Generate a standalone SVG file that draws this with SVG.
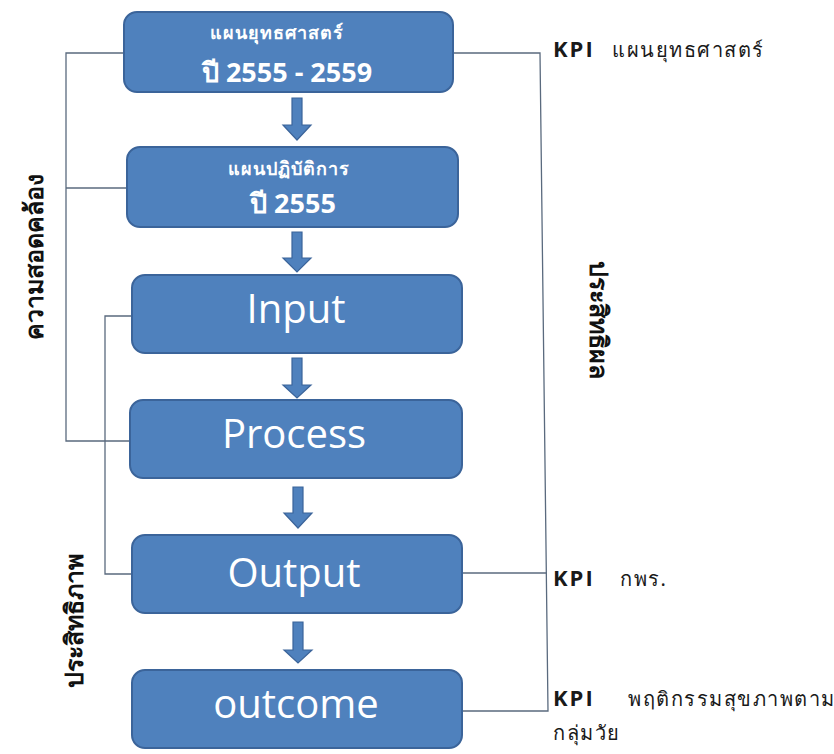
<svg xmlns="http://www.w3.org/2000/svg" width="834" height="754" viewBox="0 0 834 754">
<style>
.box{fill:#4f81bd;stroke:#3b649a;stroke-width:2}
.arr{fill:#4f81bd;stroke:#3b649a;stroke-width:1.2}
.ln{fill:none;stroke:#5a6a7e;stroke-width:1.3}
.big{font-family:"Open Sans","Noto Sans",sans-serif;font-size:40px;fill:#fff;text-anchor:middle}
.th{font-family:"Noto Sans","DejaVu Sans",sans-serif;font-weight:bold;font-size:18px;letter-spacing:1px;fill:#fff;text-anchor:middle}
.yr{font-family:"Open Sans","Liberation Sans",sans-serif;font-weight:bold;font-size:27px;fill:#fff;text-anchor:middle}
.kpi{font-family:"Open Sans","Liberation Sans",sans-serif;font-weight:bold;font-size:22px;fill:#1a1a1a;letter-spacing:2px}
.kth{font-family:"Noto Sans","DejaVu Sans",sans-serif;font-size:20px;letter-spacing:1.5px;fill:#1a1a1a}
.vt{font-family:"Liberation Serif","Noto Serif",serif;font-weight:bold;font-size:25px;fill:#111;text-anchor:middle}
</style>
<rect width="834" height="754" fill="#ffffff"/>
<g id="connectors">
<polyline class="ln" points="124,53 66,53 66,441 130,441"/>
<line class="ln" x1="66" y1="188" x2="127" y2="188"/>
<polyline class="ln" points="132,316 105,316 105,574 132,574"/>
<polyline class="ln" points="453,53 540,53 548,711 462,711"/>
<line class="ln" x1="462" y1="573" x2="547" y2="573"/>
<polygon class="arr" points="292,98 302,98 302,125 311,125 297,140 283,125 292,125"/>
<polygon class="arr" points="292,232 302,232 302,258 311,258 297,272 283,258 292,258"/>
<polygon class="arr" points="292,358 302,358 302,385 311,385 297,398 283,385 292,385"/>
<polygon class="arr" points="293,487 303,487 303,513 312,513 298,528 284,513 293,513"/>
<polygon class="arr" points="293,622 303,622 303,650 312,650 298,663 284,650 293,650"/>
</g>
<g id="node-strategy">
<rect class="box" x="124" y="12" width="329" height="80" rx="13"/>
<text class="th" x="277" y="39">แผนยุทธศาสตร์</text>
<text class="yr" x="287" y="82">ปี 2555 - 2559</text>
</g>
<g id="node-action">
<rect class="box" x="127" y="147" width="331" height="80" rx="13"/>
<text class="th" x="289" y="175">แผนปฏิบัติการ</text>
<text class="yr" x="293" y="213">ปี 2555</text>
</g>
<g id="node-input">
<rect class="box" x="132" y="275" width="330" height="78" rx="13"/>
<text class="big" x="296" y="323">Input</text>
</g>
<g id="node-process">
<rect class="box" x="130" y="400" width="332" height="78" rx="13"/>
<text class="big" x="294" y="448">Process</text>
</g>
<g id="node-output">
<rect class="box" x="132" y="535" width="330" height="78" rx="13"/>
<text class="big" x="294" y="587">Output</text>
</g>
<g id="node-outcome">
<rect class="box" x="132" y="670" width="330" height="78" rx="13"/>
<text class="big" x="296" y="718">outcome</text>
</g>
<g id="labels">
<text x="553" y="57"><tspan class="kpi">KPI</tspan><tspan class="kth" x="612">แผนยุทธศาสตร์</tspan></text>
<text x="553" y="586"><tspan class="kpi">KPI</tspan><tspan class="kth" x="620">กพร.</tspan></text>
<text x="553" y="706"><tspan class="kpi">KPI</tspan><tspan class="kth" x="628">พฤติกรรมสุขภาพตาม</tspan></text>
<text class="kth" x="553" y="740">กลุ่มวัย</text>
<text class="vt" transform="translate(43,257) rotate(-90)">ความสอดคล้อง</text>
<text class="vt" transform="translate(590,320) rotate(90)">ประสิทธิผล</text>
<text class="vt" transform="translate(83,621) rotate(-90)">ประสิทธิภาพ</text>
</g>
</svg>
